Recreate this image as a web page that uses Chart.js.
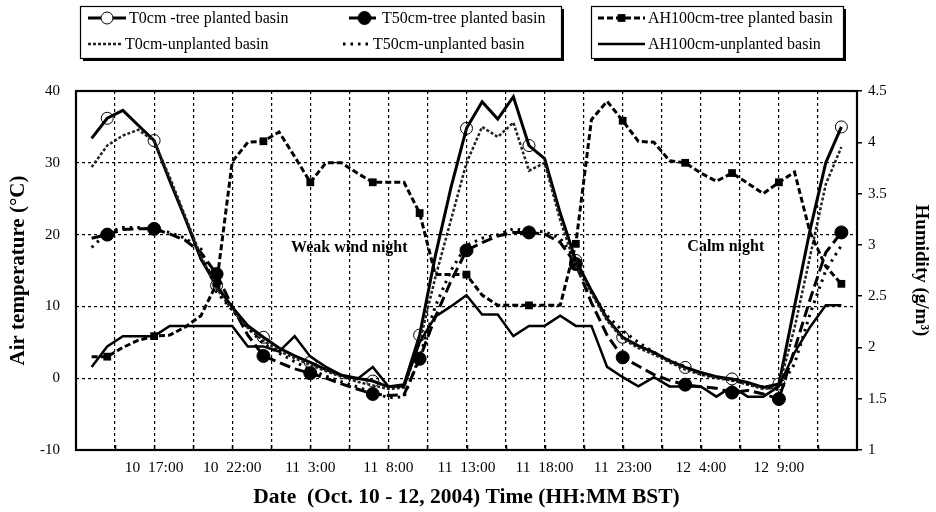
<!DOCTYPE html>
<html>
<head>
<meta charset="utf-8">
<script src="https://cdn.jsdelivr.net/npm/chart.js@4"></script>
<style>
  html, body { margin: 0; padding: 0; background: #ffffff; }
  #wrap { width: 936px; height: 512px; }
</style>
</head>
<body>
<div id="wrap"><canvas id="c" width="936" height="512"></canvas></div>
<script>
// ---- data (hours since Oct 10 12:00 BST) ----
const hours = [1,2,3,4,5,6,7,8,9,10,11,12,13,14,15,16,17,18,19,20,21,22,23,24,25,26,27,28,29,30,31,32,33,34,35,36,37,38,39,40,41,42,43,44,45,46,47,48,49];

const t0Tree  = [33.4,36.2,37.3,35.2,33.1,27.5,22.2,16.6,12.9,9.9, 7.3,5.7,4.2,3.1,2.2,1.2,0.4,0.0,-0.4,-1.2, -0.9,6.0,17.0,26.5,34.8,38.5,36.1,39.2,32.4,30.6, 23.0,16.4,12.2,8.3,5.7,4.5,3.6,2.4,1.5,0.8, 0.2,-0.1,-0.6,-1.3,-0.8,10.0,20.7,30.0,35.0];
const t0Unpl  = [29.4,32.4,33.8,34.6,33.0,28.0,22.5,17.0,12.5,9.5, 7.0,5.2,3.8,2.8,1.8,1.0,0.2,-0.5,-1.0,-1.5, -1.3,5.0,14.0,22.0,30.0,35.0,33.6,35.6,28.9,30.0, 22.0,15.5,11.8,8.0,5.5,4.2,3.3,2.2,1.2,0.5, 0.0,-0.3,-0.9,-1.5,-1.2,7.0,17.0,27.0,32.2];
const t50Tree = [19.5,20.0,20.7,20.8,20.8,20.1,19.2,17.5,14.5,10.0, 6.0,3.1,2.2,1.3,0.7,0.0,-0.8,-1.5,-2.2,-2.4, -2.3,2.7,8.5,13.5,17.8,18.9,19.8,20.3,20.3,20.1, 18.9,15.9,10.5,6.0,2.9,1.7,0.5,-0.3,-0.9,-1.2, -1.4,-2.0,-1.7,-2.2,-2.9,4.0,11.0,17.5,20.3];
const t50Unpl = [18.2,20.3,21.0,21.0,20.7,20.3,19.5,18.0,12.0,9.5, 7.0,4.8,3.5,2.3,1.2,0.3,-0.5,-1.2,-2.0,-2.7, -2.6,3.0,10.0,15.0,18.5,19.5,20.0,20.8,20.5,20.4, 19.5,16.5,12.0,8.7,6.6,5.0,3.6,2.5,1.6,0.6, 0.2,-0.3,-0.8,-1.2,-1.6,2.0,9.0,15.0,18.5];
const ahTree  = [1.91,1.91,2.00,2.07,2.11,2.12,2.20,2.31,2.62,3.81, 4.00,4.01,4.10,3.86,3.61,3.80,3.80,3.70,3.61,3.61, 3.61,3.31,2.71,2.71,2.71,2.51,2.41,2.41,2.41,2.41, 2.41,3.01,4.22,4.40,4.21,4.01,4.00,3.82,3.80,3.70, 3.62,3.70,3.60,3.50,3.61,3.71,3.12,2.79,2.62];
const ahUnpl  = [1.81,2.01,2.11,2.11,2.11,2.21,2.21,2.21,2.21,2.21, 2.01,2.01,1.96,2.11,1.91,1.81,1.73,1.69,1.81,1.62, 1.62,2.05,2.30,2.40,2.51,2.32,2.32,2.11,2.21,2.21, 2.31,2.21,2.21,1.81,1.71,1.62,1.71,1.62,1.62,1.62, 1.52,1.62,1.52,1.52,1.62,1.95,2.20,2.41,2.41];

const xTickHours  = [5,10,15,20,25,30,35,40,45];
const xTickLabels = ['10  17:00','10  22:00','11  3:00','11  8:00','11  13:00','11  18:00','11  23:00','12  4:00','12  9:00'];

const seriesNames = ['T0cm -tree planted basin','T50cm-tree planted basin','T0cm-unplanted basin','T50cm-unplanted basin','AH100cm-tree planted basin','AH100cm-unplanted basin'];
const notes = [{text:'Weak wind night', x:17.5, y:18.2},{text:'Calm night', x:41.6, y:18.3}];

// ---- style ----
const markerHours = [2,5,9,12,15,19,22,25,29,32,35,39,42,45,49];
const FONT = '"Liberation Serif", "Times New Roman", Times, serif';
const pts = arr => hours.map((h,i)=>({x:h, y:arr[i]}));
const markR = r => (ctx => markerHours.includes(hours[ctx.dataIndex]) ? r : 0);

const datasets = [
  {label:seriesNames[5], data:pts(ahUnpl), yAxisID:'y2', borderColor:'#000', borderWidth:2.5, borderDash:[], pointRadius:0, pointStyle:false},
  {label:seriesNames[4], data:pts(ahTree), yAxisID:'y2', borderColor:'#000', borderWidth:3, borderDash:[6,3], pointRadius:markR(5.5), pointStyle:'rect', pointBackgroundColor:'#000', pointBorderColor:'#000', pointBorderWidth:0},
  {label:seriesNames[3], data:pts(t50Unpl), yAxisID:'y', borderColor:'#000', borderWidth:3, borderDash:[2.5,5], pointRadius:0, pointStyle:false},
  {label:seriesNames[2], data:pts(t0Unpl), yAxisID:'y', borderColor:'#222', borderWidth:2.5, borderDash:[3,2], pointRadius:0, pointStyle:false},
  {label:seriesNames[1], data:pts(t50Tree), yAxisID:'y', borderColor:'#000', borderWidth:3, borderDash:[11,5], pointRadius:markR(6.5), pointStyle:'circle', pointBackgroundColor:'#000', pointBorderColor:'#000', pointBorderWidth:1},
  {label:seriesNames[0], data:pts(t0Tree), yAxisID:'y', borderColor:'#000', borderWidth:3, borderDash:[], pointRadius:markR(6), pointStyle:'circle', pointBackgroundColor:'rgba(255,255,255,0)', pointBorderColor:'#000', pointBorderWidth:1}
];

function drawMarker(ctx, ds, x, y) {
  if (!ds.pointStyle) return;
  const r = ds.pointStyle === 'rect' ? 5.5 : (ds.label === seriesNames[0] ? 6 : 6.5);
  Chart.helpers.drawPoint(ctx, {pointStyle: ds.pointStyle, radius: r, rotation: 0, borderWidth: ds.pointBorderWidth}, x, y);
}
function sample(ctx, ds, x1, x2, y) {
  ctx.save();
  ctx.strokeStyle = ds.borderColor; ctx.lineWidth = ds.borderWidth;
  ctx.setLineDash(ds.borderDash || []);
  ctx.beginPath(); ctx.moveTo(x1, y); ctx.lineTo(x2, y); ctx.stroke();
  ctx.setLineDash([]);
  ctx.fillStyle = ds.pointBackgroundColor || '#000';
  ctx.strokeStyle = ds.pointBorderColor || '#000';
  ctx.lineWidth = ds.pointBorderWidth || 1;
  if (ds.pointStyle) {
    if (ds.label === seriesNames[0]) { ctx.fillStyle = '#fff'; }
    drawMarker(ctx, ds, (x1+x2)/2, y);
  }
  ctx.restore();
}
function box(ctx, x, y, w, h) {
  ctx.save();
  ctx.fillStyle = '#000'; ctx.fillRect(x+3, y+3, w, h);
  ctx.fillStyle = '#fff'; ctx.fillRect(x, y, w, h);
  ctx.strokeStyle = '#000'; ctx.lineWidth = 1.2; ctx.strokeRect(x+0.5, y+0.5, w, h);
  ctx.restore();
}
const byLabel = l => datasets.find(d => d.label === l);

const decor = {
  id: 'decor',
  beforeDatasetsDraw(chart) {
    const ctx = chart.ctx, xs = chart.scales.x, ys = chart.scales.y;
    ctx.save();
    ctx.font = 'bold 16px ' + FONT; ctx.fillStyle = '#000';
    ctx.textAlign = 'center'; ctx.textBaseline = 'middle';
    notes.forEach(n => ctx.fillText(n.text, xs.getPixelForValue(n.x), ys.getPixelForValue(n.y)));
    ctx.restore();
  },
  afterDraw(chart) {
    const ctx = chart.ctx, a = chart.chartArea, xs = chart.scales.x;
    ctx.save();
    // inner tick marks on the bottom axis
    ctx.strokeStyle = '#000'; ctx.lineWidth = 1.5;
    for (let h = 2.5; h < 50; h += 2.5) {
      const px = Math.round(xs.getPixelForValue(h)) + 0.5;
      ctx.beginPath(); ctx.moveTo(px, a.bottom); ctx.lineTo(px, a.bottom - 5); ctx.stroke();
    }
    // frame
    ctx.lineWidth = 2.2;
    ctx.strokeRect(a.left, a.top, a.right - a.left, a.bottom - a.top);
    // legend boxes
    box(ctx, 80, 6, 481, 52);
    box(ctx, 591, 6, 252, 52);
    ctx.font = '16px ' + FONT; ctx.fillStyle = '#000'; ctx.textBaseline = 'middle'; ctx.textAlign = 'left';
    const items = [
      [seriesNames[0], 88, 126, 129, 18],
      [seriesNames[1], 349, 380, 382, 18],
      [seriesNames[2], 88, 122, 125, 44],
      [seriesNames[3], 343, 370, 373, 44],
      [seriesNames[4], 598, 645, 648, 18],
      [seriesNames[5], 598, 645, 648, 44]
    ];
    items.forEach(([lab, x1, x2, tx, y]) => {
      sample(ctx, byLabel(lab), x1, x2, y);
      ctx.fillStyle = '#000';
      ctx.fillText(lab, tx, y + 1);
    });
    ctx.restore();
  }
};

Chart.defaults.font.family = FONT;
Chart.defaults.color = '#000';

new Chart(document.getElementById('c'), {
  type: 'line',
  data: { datasets },
  options: {
    responsive: false,
    animation: false,
    devicePixelRatio: 1,
    layout: { padding: { top: 91, left: 0, right: 0, bottom: 0 } },
    elements: { line: { tension: 0, fill: false } },
    plugins: { legend: { display: false }, tooltip: { enabled: false } },
    scales: {
      x: {
        type: 'linear', min: 0, max: 50,
        afterFit: s => { s.height = 62; },
        ticks: {
          stepSize: 2.5, autoSkip: false, maxRotation: 0, minRotation: 0, padding: 9,
          font: { size: 15.5 },
          callback: v => { const i = xTickHours.indexOf(v); return i >= 0 ? xTickLabels[i] : ''; }
        },
        grid: { color: '#000', lineWidth: 1.2, drawTicks: false },
        border: { display: false, dash: [3, 3] },
        title: { display: true, text: 'Date  (Oct. 10 - 12, 2004) Time (HH:MM BST)', font: { size: 21.5, weight: 'bold' }, padding: { top: 0, bottom: 2 } }
      },
      y: {
        position: 'left', min: -10, max: 40,
        afterFit: s => { s.width = 76; },
        ticks: { stepSize: 10, padding: 16, font: { size: 15 } },
        grid: { color: '#000', lineWidth: 1.2, drawTicks: false },
        border: { display: false, dash: [3, 3] },
        title: { display: true, text: 'Air temperature (°C)', font: { size: 21, weight: 'bold' }, padding: { top: 6, bottom: 0 } }
      },
      y2: {
        position: 'right', min: 1, max: 4.5,
        afterFit: s => { s.width = 79; },
        ticks: { stepSize: 0.5, padding: 6, font: { size: 15 }, callback: v => String(Math.round(v * 10) / 10) },
        grid: { drawOnChartArea: false, color: '#000', lineWidth: 1.5, tickLength: 5 },
        border: { display: false, dash: [] },
        title: { display: true, text: 'Humidity (g/m³)', font: { size: 19, weight: 'bold' }, padding: { top: 4, bottom: 0 } }
      }
    }
  },
  plugins: [decor]
});
</script>
</body>
</html>
